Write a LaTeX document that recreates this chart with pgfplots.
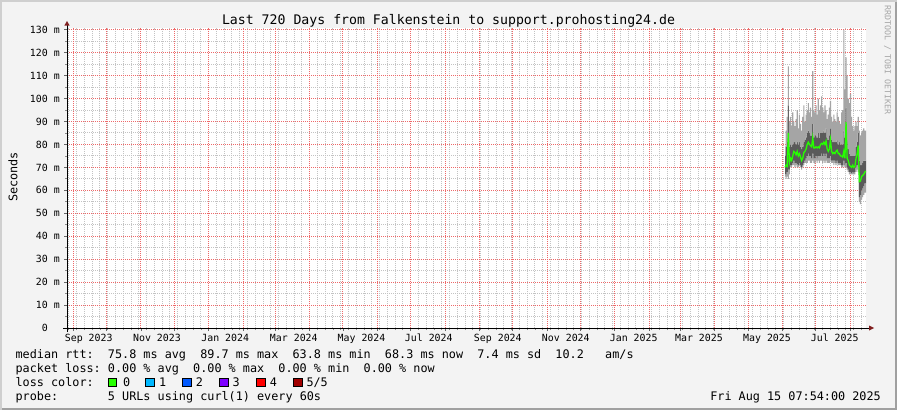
\documentclass[border=0pt]{standalone}
\usepackage{fontspec}
\usepackage{pgfplots}
\pgfplotsset{compat=1.18}
\usepackage{pgfplotstable}
\newfontfamily\mono{DejaVu Sans Mono}
\newcommand\tickfont{\mono\fontsize{9.9bp}{11bp}\selectfont}
\newcommand\legfont{\mono\fontsize{11.8bp}{13bp}\selectfont}
\newcommand\titlefont{\mono\fontsize{13.2bp}{15bp}\selectfont}
\definecolor{bg}{RGB}{243,243,243}
\definecolor{bordlight}{RGB}{207,207,207}
\definecolor{borddark}{RGB}{160,160,160}
\definecolor{mgrid}{RGB}{238,105,105}
\definecolor{mingrid}{RGB}{195,195,195}
\definecolor{arrowc}{RGB}{128,30,30}
\definecolor{smokeA}{RGB}{165,165,165}
\definecolor{smokeB}{RGB}{90,90,90}
\definecolor{medc}{RGB}{38,255,0}
\definecolor{lc1}{RGB}{0,184,255}
\definecolor{lc2}{RGB}{0,89,255}
\definecolor{lc3}{RGB}{126,0,255}
\definecolor{lc4}{RGB}{255,0,0}
\definecolor{lc5}{RGB}{161,0,0}

\pgfplotstableread{
d lo q1 med q3 hi
647 66 67 70 75 79
648 65 67 71 79 86
649 66 68 70.5 81 92
650 65 69 85 97 114
651 67 69 72 79 90
652 70 71 74 80 92
653 70 71 73 79 88
654 71 72 75 80 94
655 71 73 77 81 90
656 70 72 76.5 81 88
657 71 72 75.5 80 91
658 70 71.5 77 81 95
659 70 71 75 80 87
660 71 72 76 81 93
661 70 71 74.5 79 89
662 69 70 73 78 86
663 70 71 74 79 92
664 71 72 76.5 81 97
665 72 73 77 82 90
666 72 74 78 83 93
667 72 75 80 85 95
668 73 76 81 86 98
669 73 75 80 85 94
670 72 75 79.5 84 96
671 72 74 79 84 92
672 73 76 83 89 112
673 72 74 78.5 83 95
674 72 74 78.5 84 94
675 73 75 79 84 97
676 72 74 78.5 83 93
677 73 75 79 85 100
678 72 75 78.5 83 95
679 73 75 80 85 97
680 73 76 80.5 85 101
681 72 75 80 85 96
682 73 76 81 86 94
683 72 75 80 85 97
684 73 76 81.5 87 95
685 72 74 78 83 91
686 72 74 77 82 93
687 72 74 78 84 96
688 73 75 82 87 99
689 72 73 77 82 92
690 72 73 76 81 90
691 71 73 76.5 81 93
692 72 73 76 81 91
693 71 72 77 81 90
694 72 73 77.5 82 94
695 71 72 76 80 92
696 71 72 76 81 90
697 71 72 75 80 89
698 70 71 75 80 94
699 70 71 74.5 80 95
700 71 73 77 86 130
701 70 71 74 83 104
702 70 72 89.7 96 118
703 69 70 74 81 110
704 68 69 73 78 100
705 67 68 71 76 98
706 67 68 70.5 75 102
707 67 67.5 70 75 92
708 67 68 71 75 88
709 67 67.5 70 75 86
710 67 68 70.5 75 88
711 68 70 74 79 90
712 69 71 76 81 88
713 68 71 79.6 85 92
714 55 57 63.8 73 86
715 54 58 64 71 84
716 56 60 66 71 85
717 57 61 66.5 72 86
718 58 62 67 73 87
719 59 63 68 73 86
720 59 63 68.3 73 86
}\smoke

\begin{document}
\begin{tikzpicture}[x=1bp,y=1bp]
\fill[bg] (0,0) rectangle (897,410);
\fill[bordlight] (0,0) rectangle (2,410);
\fill[bordlight] (0,408) rectangle (897,410);
\fill[borddark] (895,0) rectangle (897,408);
\fill[borddark] (2,0) rectangle (897,2.5);

% minor grid (weekly, every 5 units)
\begin{axis}[
  at={(67bp,82bp)}, anchor=south west,
  width=799bp, height=300.1bp, scale only axis,
  xmin=0, xmax=720, ymin=0, ymax=130.8,
  axis line style={draw=none},
  axis background/.style={fill=white},
  tick pos=left, tick align=outside, major tick length=2bp,
  xtick={1.671,8.671,...,715.671}, ytick={5,15,...,125},
  xticklabels={}, yticklabels={},
  xmajorgrids=true, ymajorgrids=true,
  every tick/.style={line width=0.8bp, black!45},
  every major grid/.style={draw=mingrid, dash pattern=on 1bp off 1bp, line width=1bp},
]
\end{axis}

% main axis: month / 10-unit grid, labels, data
\begin{axis}[
  at={(67bp,82bp)}, anchor=south west,
  width=799bp, height=300.1bp, scale only axis,
  xmin=0, xmax=720, ymin=0, ymax=130.8,
  axis line style={draw=none},
  tick pos=left,
  xtick={5.671,35.671,66.671,96.671,127.671,158.671,187.671,218.671,248.671,279.671,309.671,340.671,371.671,401.671,432.671,462.671,493.671,524.671,552.671,583.671,613.671,644.671,674.671,705.671},
  xticklabels={},
  extra x ticks={19.6,81.1,142.6,204.4,265.4,326.0,388.2,449.5,510.7,569.5,630.8,691.8},
  extra x tick labels={Sep 2023,Nov 2023,Jan 2024,Mar 2024,May 2024,Jul 2024,Sep 2024,Nov 2024,Jan 2025,Mar 2025,May 2025,Jul 2025},
  extra x tick style={grid=none, major tick length=0pt},
  ytick={0,10,...,130},
  yticklabels={0\phantom{~m},10~m,20~m,30~m,40~m,50~m,60~m,70~m,80~m,90~m,100~m,110~m,120~m,130~m},
  xmajorgrids=true, ymajorgrids=true,
  tick align=outside,
  major tick length=3bp,
  every tick/.style={line width=0.8bp, black!60},
  every major grid/.style={draw=mgrid, dash pattern=on 1bp off 1bp, line width=1bp},
  xticklabel style={font=\tickfont, anchor=base, inner sep=0pt, yshift=-13.3bp},
  yticklabel style={font=\tickfont, anchor=east, inner sep=0pt, xshift=-4bp},
]
\addplot[draw=none, stack plots=y, const plot mark mid] table[x=d,y=lo]{\smoke};
\addplot[fill=smokeA, draw=none, stack plots=y, const plot mark mid] table[x=d, y expr=\thisrow{q1}-\thisrow{lo}]{\smoke} \closedcycle;
\addplot[fill=smokeB, draw=none, stack plots=y, const plot mark mid] table[x=d, y expr=\thisrow{q3}-\thisrow{q1}]{\smoke} \closedcycle;
\addplot[fill=smokeA, draw=none, stack plots=y, const plot mark mid] table[x=d, y expr=\thisrow{hi}-\thisrow{q3}]{\smoke} \closedcycle;
\addplot[medc, line width=1.3bp, stack plots=false] table[x=d,y=med]{\smoke};
\end{axis}

% axes with arrows
\draw[black, line width=1bp] (63,82) -- (870,82);
\draw[black, line width=1bp] (67,78) -- (67,385);
\fill[arrowc] (869,79.5) -- (874,82) -- (869,84.5) -- cycle;
\fill[arrowc] (64.3,384.3) -- (67,389) -- (69.7,384.3) -- cycle;

% title, labels
\node[anchor=base, inner sep=0pt, font=\titlefont] at (448.5,386) {Last 720 Days from Falkenstein to support.prohosting24.de};
\node[rotate=90, inner sep=0pt, font=\legfont] at (13,233) {Seconds};
\node[rotate=-90, inner sep=0pt, font=\mono\fontsize{8.3bp}{9bp}\selectfont, text=black!35] at (887.5,350) {RRDTOOL / TOBI OETIKER};

% legend
\node[anchor=base west, inner sep=0pt, font=\legfont] at (15.4,51.7) {median~rtt:~~75.8~ms~avg~~89.7~ms~max~~63.8~ms~min~~68.3~ms~now~~7.4~ms~sd~~10.2~~~am/s};
\node[anchor=base west, inner sep=0pt, font=\legfont] at (15.4,37.7) {packet~loss:~0.00~\%~avg~~0.00~\%~max~~0.00~\%~min~~0.00~\%~now};
\node[anchor=base west, inner sep=0pt, font=\legfont] at (15.4,23.5) {loss~color:};
\node[anchor=base west, inner sep=0pt, font=\legfont] at (15.4,10) {probe:~~~~~~~5~URLs~using~curl(1)~every~60s};
\node[anchor=base east, inner sep=0pt, font=\legfont] at (881,10) {Fri~Aug~15~07:54:00~2025};

\filldraw[fill=medc, draw=black, line width=0.8bp] (108,23.6) rectangle +(8.3,8.3);
\filldraw[fill=lc1, draw=black, line width=0.8bp] (145.7,23.6) rectangle +(8.3,8.3);
\filldraw[fill=lc2, draw=black, line width=0.8bp] (182.7,23.6) rectangle +(8.3,8.3);
\filldraw[fill=lc3, draw=black, line width=0.8bp] (219.7,23.6) rectangle +(8.3,8.3);
\filldraw[fill=lc4, draw=black, line width=0.8bp] (256.7,23.6) rectangle +(8.3,8.3);
\filldraw[fill=lc5, draw=black, line width=0.8bp] (293.7,23.6) rectangle +(8.3,8.3);
\node[anchor=base west, inner sep=0pt, font=\legfont] at (123,23.5) {0};
\node[anchor=base west, inner sep=0pt, font=\legfont] at (159,23.5) {1};
\node[anchor=base west, inner sep=0pt, font=\legfont] at (195.7,23.5) {2};
\node[anchor=base west, inner sep=0pt, font=\legfont] at (232.3,23.5) {3};
\node[anchor=base west, inner sep=0pt, font=\legfont] at (269.7,23.5) {4};
\node[anchor=base west, inner sep=0pt, font=\legfont] at (306.3,23.5) {5/5};
\end{tikzpicture}
\end{document}
